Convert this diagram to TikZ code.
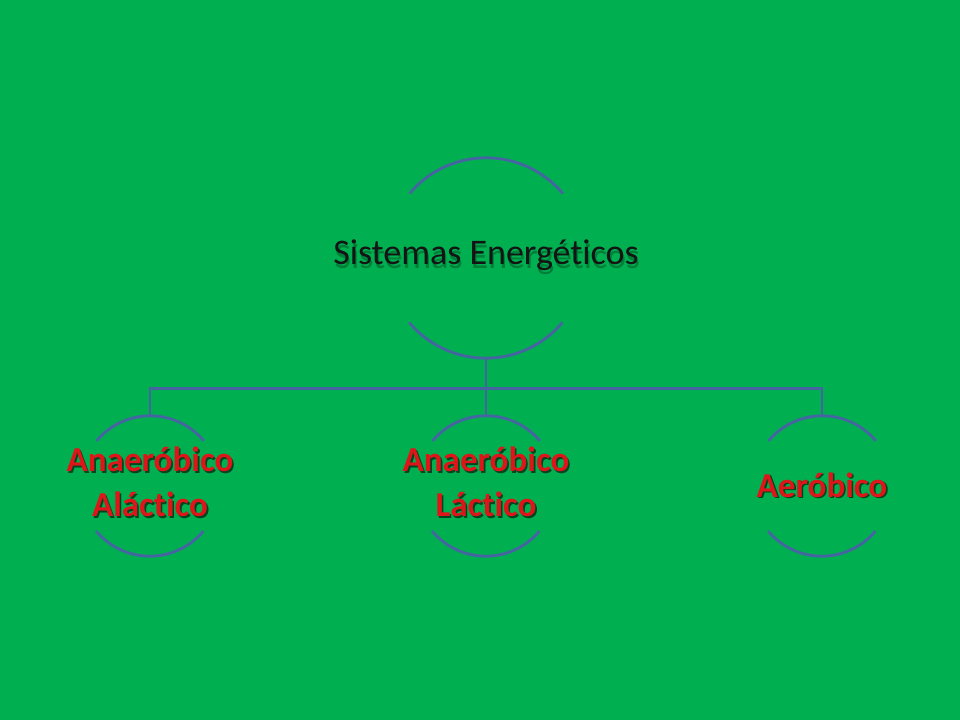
\documentclass[tikz,border=0pt]{standalone}
\usepackage{fontspec}
\setmainfont{Carlito}[Ligatures=NoCommon]
\usepackage{tikz}
\usetikzlibrary{positioning,calc}
\definecolor{slidegreen}{RGB}{0,176,80}
\definecolor{linkblue}{RGB}{70,100,162}
\definecolor{leafred}{RGB}{222,22,26}
\newcommand{\shadowed}[4]{\rlap{\kern#2\raisebox{-#3}{\textcolor{#4}{#1}}}#1}
\tikzstyle{ring} = [draw=linkblue, line width=2.1pt]
\tikzstyle{link} = [draw=linkblue, line width=2.1pt]
\tikzstyle{hole} = [circle, inner sep=0pt]
\tikzstyle{head} = [font=\fontsize{27}{33}\selectfont, text=black!92]
\tikzstyle{leaf} = [font=\bfseries\fontsize{26.3}{33.5}\selectfont, text=leafred]

\begin{document}
\begin{tikzpicture}[x=0.75pt,y=0.75pt]
\fill[slidegreen] (0,0) rectangle (960,720);
\useasboundingbox (0,0) rectangle (960,720);
\node (sis) [hole, minimum size=150pt] at (486,462) {};
\node (ala) [hole, minimum size=105pt] at (150,234) {};
\node (lac) [hole, minimum size=105pt] at (486,234) {};
\node (aer) [hole, minimum size=105pt] at (822,234) {};
% half rings
\draw[ring] (sis.40) arc (40:140:75pt);
\draw[ring] (sis.220) arc (220:320:75pt);
\foreach \n in {ala,lac,aer} {
\draw[ring] (\n.40) arc (40:140:52.5pt);
\draw[ring] (\n.220) arc (220:320:52.5pt);
}
% texts
\node[head] (sisT) at ($(sis)+(0,1)$) {\shadowed{Sistemas Energéticos}{1pt}{3pt}{slidegreen!72!black}};
\node[leaf] (alaT) at (ala) {\shadowed{\begin{tabular}{@{}c@{}}Anaeróbico\\Aláctico\end{tabular}}{1.2pt}{1.2pt}{slidegreen!40!black}};
\node[leaf] (lacT) at (lac) {\shadowed{\begin{tabular}{@{}c@{}}Anaeróbico\\Láctico\end{tabular}}{1.2pt}{1.2pt}{slidegreen!40!black}};
\node[leaf] (aerT) at (aer) {\shadowed{Aeróbico}{1.2pt}{1.2pt}{slidegreen!40!black}};
% tree links
\coordinate (bar) at ($(sis.south)+(0,-30)$);
\draw[link] (sis.south) -- (bar);
\draw[link] (bar) -| (ala.north);
\draw[link] (bar) -- (lac.north);
\draw[link] (bar) -| (aer.north);
\end{tikzpicture}
\end{document}
